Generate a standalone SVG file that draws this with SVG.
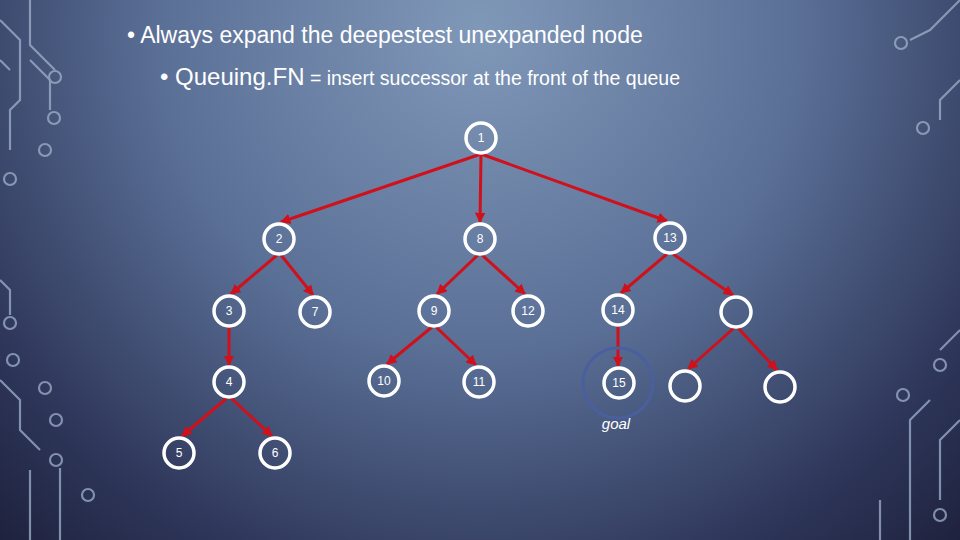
<svg xmlns="http://www.w3.org/2000/svg" width="960" height="540" viewBox="0 0 960 540">
<defs>
<radialGradient id="bg" cx="480" cy="30" r="720" gradientUnits="userSpaceOnUse">
<stop offset="0" stop-color="#8098b8"/><stop offset="0.45" stop-color="#5a6f96"/><stop offset="0.8" stop-color="#2d3558"/><stop offset="1" stop-color="#1c1f3a"/>
</radialGradient>
<marker id="ah" viewBox="0 0 10 10" refX="9" refY="5" markerWidth="3.5" markerHeight="3.5" orient="auto"><path d="M0,0L10,5L0,10z" fill="#d0101a"/></marker>
<style>
.n circle{fill:none;stroke:#fff;stroke-width:3.5}
.n circle.ring{stroke:#4a5fa0;stroke-width:3}
.n text{fill:#fff;font:12px "Liberation Sans",Arial,sans-serif;text-anchor:middle;dominant-baseline:central}
#edges line{stroke:#d0101a;stroke-width:3;marker-end:url(#ah)}
.dec{fill:none;stroke:#9fb2cc;stroke-width:2.2;opacity:0.75}
.t{fill:#fff;font-family:"Liberation Sans",Arial,sans-serif}
</style>
</defs>
<rect width="960" height="540" fill="url(#bg)"/>
<g class="dec">
<path d="M0,20 L20,40 L20,100 L10,110 L10,150"/><circle cx="10" cy="179" r="6"/>
<path d="M0,60 L10,70"/><path d="M30,0 L30,45 L55,70"/><circle cx="55" cy="77" r="6"/>
<path d="M30,60 L50,80 L50,110"/><circle cx="54" cy="118" r="6"/><circle cx="45" cy="150" r="6"/>
<path d="M0,280 L10,290 L10,315"/><circle cx="10" cy="323" r="6"/><circle cx="13" cy="360" r="6"/>
<path d="M0,380 L20,400 L20,430 L40,450"/><circle cx="45" cy="388" r="6"/><circle cx="56" cy="420" r="6"/>
<circle cx="56" cy="460" r="6"/><circle cx="88" cy="495" r="6"/><path d="M30,470 L30,540"/><path d="M60,468 L60,540"/>
<path d="M960,0 L930,30 L910,40"/><circle cx="901" cy="43" r="6"/><path d="M960,80 L940,100 L940,120"/><circle cx="923" cy="128" r="6"/>
<path d="M960,330 L940,350"/><circle cx="940" cy="365" r="6"/><path d="M960,420 L940,440 L940,500"/><circle cx="940" cy="515" r="6"/>
<path d="M930,400 L910,420 L910,540"/><circle cx="903" cy="395" r="6"/><path d="M880,540 L880,500"/>
</g>
<text class="t" x="127" y="43" font-size="23">• Always expand the deepestest unexpanded node</text>
<text class="t" x="160" y="85"><tspan font-size="24">• Queuing.FN</tspan><tspan font-size="19.5"> = insert successor at the front of the queue</tspan></text>
<g id="edges">
<line x1="481" y1="154" x2="281" y2="222"/>
<line x1="481" y1="154" x2="480" y2="222"/>
<line x1="481" y1="154" x2="667" y2="221"/>
<line x1="277" y1="255" x2="231" y2="294"/>
<line x1="281" y1="255" x2="313" y2="295"/>
<line x1="478" y1="255" x2="437" y2="294"/>
<line x1="482" y1="255" x2="525" y2="294"/>
<line x1="667" y1="254" x2="621" y2="293"/>
<line x1="673" y1="254" x2="733" y2="295"/>
<line x1="229" y1="327" x2="229" y2="365"/>
<line x1="432" y1="327" x2="387" y2="364"/>
<line x1="436" y1="327" x2="476" y2="365"/>
<line x1="618" y1="326" x2="618" y2="366"/>
<line x1="734" y1="328" x2="688" y2="369"/>
<line x1="738" y1="328" x2="777" y2="370"/>
<line x1="227" y1="398" x2="182" y2="436"/>
<line x1="231" y1="398" x2="272" y2="436"/>
</g>
<g id="nodes">
<g id="n1" class="n"><circle cx="481" cy="138" r="15"/><text x="481" y="138">1</text></g>
<g id="n2" class="n"><circle cx="279" cy="239" r="15"/><text x="279" y="239">2</text></g>
<g id="n8" class="n"><circle cx="480" cy="239" r="15"/><text x="480" y="239">8</text></g>
<g id="n13" class="n"><circle cx="670" cy="238" r="15"/><text x="670" y="238">13</text></g>
<g id="n3" class="n"><circle cx="229" cy="311" r="15"/><text x="229" y="311">3</text></g>
<g id="n7" class="n"><circle cx="315" cy="312" r="15"/><text x="315" y="312">7</text></g>
<g id="n9" class="n"><circle cx="434" cy="311" r="15"/><text x="434" y="311">9</text></g>
<g id="n12" class="n"><circle cx="528" cy="311" r="15"/><text x="528" y="311">12</text></g>
<g id="n14" class="n"><circle cx="618" cy="310" r="15"/><text x="618" y="310">14</text></g>
<g id="nb1" class="n"><circle cx="736" cy="312" r="15"/></g>
<g id="n4" class="n"><circle cx="229" cy="382" r="15"/><text x="229" y="382">4</text></g>
<g id="n10" class="n"><circle cx="384" cy="381" r="15"/><text x="384" y="381">10</text></g>
<g id="n11" class="n"><circle cx="479" cy="382" r="15"/><text x="479" y="382">11</text></g>
<g id="n15" class="n"><circle class="ring" cx="618" cy="383" r="35"/><circle cx="619" cy="383" r="15"/><text x="619" y="383">15</text></g>
<g id="nb2" class="n"><circle cx="685" cy="386" r="15"/></g>
<g id="nb3" class="n"><circle cx="780" cy="387" r="15"/></g>
<g id="n5" class="n"><circle cx="179" cy="453" r="15"/><text x="179" y="453">5</text></g>
<g id="n6" class="n"><circle cx="275" cy="453" r="15"/><text x="275" y="453">6</text></g>
<text class="t" x="616" y="429" font-size="15" font-style="italic" text-anchor="middle">goal</text>
</g>
</svg>
